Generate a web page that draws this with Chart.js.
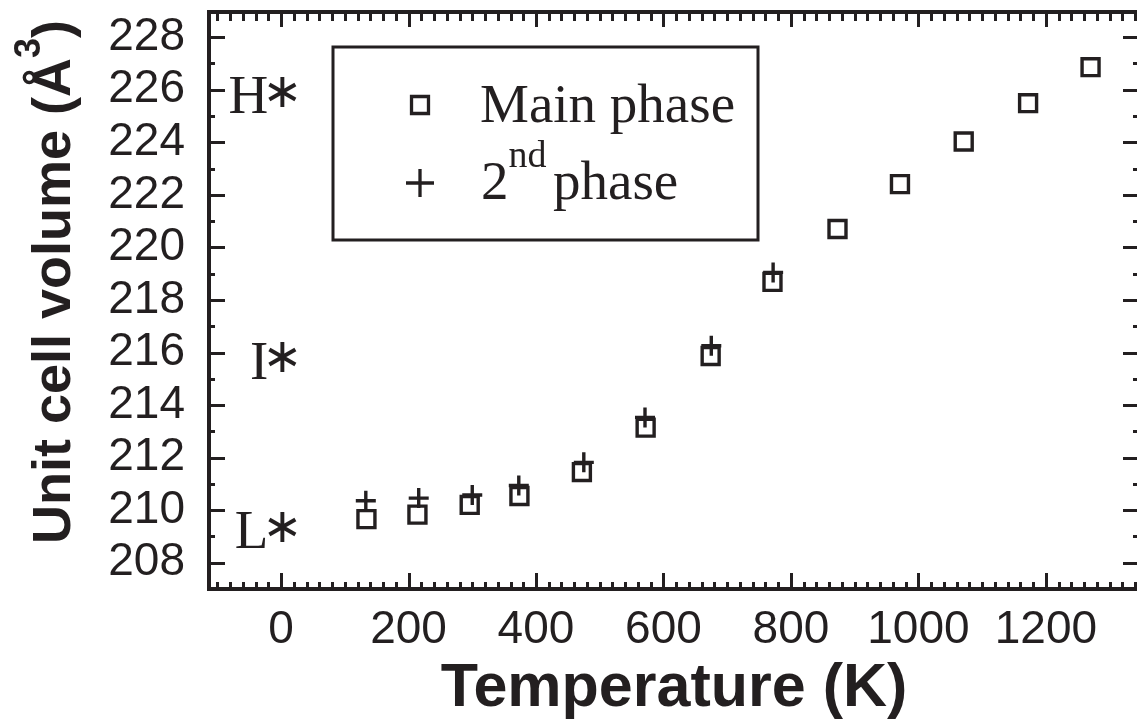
<!DOCTYPE html>
<html>
<head>
<meta charset="utf-8">
<title>Unit cell volume vs temperature</title>
<script src="https://cdn.jsdelivr.net/npm/chart.js@4/dist/chart.umd.min.js"></script>
<style>
  html, body { margin: 0; padding: 0; background: #fff; overflow: hidden; }
  #wrap { width: 1137px; height: 722px; overflow: hidden; position: relative; }
  #volumeChart { display: block; }
</style>
</head>
<body>
<div id="wrap">
  <canvas id="volumeChart" width="1145" height="722"></canvas>
</div>
<script>
// 主相：溫度 (K) 與晶胞體積 (Å^3)
const mainTemps = [134, 214, 296, 374, 472, 572, 674, 771, 873, 971, 1071, 1172, 1270];
const mainVolumes = [209.66, 209.83, 210.20, 210.54, 211.45, 213.14, 215.87, 218.69, 220.70, 222.41, 224.03, 225.49, 226.86];

// 第二相
const secondTemps = [133, 216, 300, 373, 475, 571, 675, 772];
const secondVolumes = [210.36, 210.46, 210.58, 210.94, 211.82, 213.53, 216.26, 219.05];

// 刻度標籤
const xTickValues = [0, 200, 400, 600, 800, 1000, 1200];
const yTickValues = [208, 210, 212, 214, 216, 218, 220, 222, 224, 226, 228];

// 左側的相標記 (H*, I*, L*)
const phaseMarks = ["H", "I", "L"];
const phaseMarkVolumes = [225.1, 215.0, 208.55];

const ink = "#231f20";
const sansFont = "'Liberation Sans', Arial, Helvetica, sans-serif";
const serifFont = "'Liberation Serif', 'Times New Roman', 'DejaVu Serif', serif";

Chart.defaults.font.family = sansFont;
Chart.defaults.color = ink;

// 外框與內向刻度
function drawFrame(chart) {
  const { ctx, chartArea: a, scales: { x, y } } = chart;
  ctx.save();
  ctx.strokeStyle = ink;

  ctx.lineWidth = 3;
  ctx.beginPath();
  for (let k = Math.ceil(x.min / 20); k * 20 <= x.max; k++) {
    const v = k * 20;
    const px = Math.round(x.getPixelForValue(v)) + 0.5;
    const major = v % 200 === 0;
    ctx.moveTo(px, a.bottom);
    ctx.lineTo(px, a.bottom - (major ? 16 : 7));
    ctx.moveTo(px, a.top);
    ctx.lineTo(px, a.top + (major ? 15 : 9));
  }
  for (let v = Math.ceil(y.min); v <= y.max; v++) {
    const py = Math.round(y.getPixelForValue(v)) + 0.5;
    const major = v % 2 === 0;
    ctx.moveTo(a.left, py);
    ctx.lineTo(a.left + (major ? 16 : 6), py);
    ctx.moveTo(a.right, py);
    ctx.lineTo(a.right - (major ? 16 : 6), py);
  }
  ctx.stroke();

  ctx.lineWidth = 4;
  ctx.strokeRect(a.left, a.top, a.right - a.left, a.bottom - a.top);
  ctx.restore();
}

// 圖例方框
function drawLegend(chart) {
  const ctx = chart.ctx;
  ctx.save();
  ctx.strokeStyle = ink;
  ctx.fillStyle = "rgba(0,0,0,0)";
  ctx.lineWidth = 3;
  ctx.strokeRect(333, 47, 425, 193);

  ctx.lineWidth = 3.3;
  Chart.helpers.drawPoint(ctx, { pointStyle: "rect", radius: 12, borderWidth: 3.3, rotation: 0 }, 420, 105);
  Chart.helpers.drawPoint(ctx, { pointStyle: "cross", radius: 14, borderWidth: 3.3, rotation: 0 }, 420, 183);

  ctx.fillStyle = ink;
  ctx.textAlign = "left";
  ctx.textBaseline = "alphabetic";
  ctx.font = "55px " + serifFont;
  ctx.fillText("Main phase", 480, 122);
  ctx.fillText("2", 481, 199);
  const w2 = ctx.measureText("2").width;
  ctx.font = "38px " + serifFont;
  ctx.fillText("nd", 481 + w2, 167);
  ctx.font = "55px " + serifFont;
  ctx.fillText("phase", 553, 199);
  ctx.restore();
}

// H*, I*, L* 標記：字母加星號
function drawPhaseMarks(chart) {
  const { ctx, scales: { x, y } } = chart;
  const letterX = x.getPixelForValue(-20);
  const starX = x.getPixelForValue(2);
  ctx.save();
  ctx.fillStyle = ink;
  phaseMarks.forEach((label, i) => {
    const base = y.getPixelForValue(phaseMarkVolumes[i]);
    ctx.font = "55px " + serifFont;
    ctx.textAlign = "right";
    ctx.textBaseline = "alphabetic";
    ctx.fillText(label, letterX, base);
    ctx.font = "48px 'DejaVu Sans', sans-serif";
    ctx.textAlign = "center";
    ctx.textBaseline = "middle";
    ctx.fillText("\u2217", starX, base - 19);
  });
  ctx.restore();
}

// Y 軸標題（含上標 3）
function drawYTitle(chart) {
  const ctx = chart.ctx;
  const mainFont = "bold 54px " + sansFont;
  const supFont = "bold 36px " + sansFont;
  const head = "Unit cell volume (\u00c5";
  ctx.save();
  ctx.translate(70, 282);
  ctx.rotate(-Math.PI / 2);
  ctx.fillStyle = ink;
  ctx.textAlign = "left";
  ctx.textBaseline = "alphabetic";
  ctx.font = mainFont;
  const wHead = ctx.measureText(head).width;
  const wClose = ctx.measureText(")").width;
  ctx.font = supFont;
  const wSup = ctx.measureText("3").width;
  let pos = -(wHead + wSup + wClose) / 2;
  ctx.font = mainFont;
  ctx.fillText(head, pos, 0);
  pos += wHead;
  ctx.font = supFont;
  ctx.fillText("3", pos, -30);
  pos += wSup;
  ctx.font = mainFont;
  ctx.fillText(")", pos, 0);
  ctx.restore();
}

const decorPlugin = {
  id: "decor",
  afterDraw(chart) {
    drawFrame(chart);
    drawLegend(chart);
    drawPhaseMarks(chart);
    drawYTitle(chart);
  },
};

const ctx = document.getElementById("volumeChart").getContext("2d");
const volumeChart = new Chart(ctx, {
  type: "scatter",
  data: {
    datasets: [
      {
        label: "Main phase",
        data: mainTemps.map((t, i) => ({ x: t, y: mainVolumes[i] })),
        pointStyle: "rect",
        pointRadius: 12,
        pointBorderWidth: 3.4,
        borderColor: ink,
        backgroundColor: "rgba(0,0,0,0)",
      },
      {
        label: "2nd phase",
        data: secondTemps.map((t, i) => ({ x: t, y: secondVolumes[i] })),
        pointStyle: "cross",
        pointRadius: 10,
        pointBorderWidth: 3.4,
        borderColor: ink,
        backgroundColor: ink,
      },
    ],
  },
  options: {
    responsive: false,
    animation: false,
    devicePixelRatio: 1,
    layout: { autoPadding: false, padding: { top: 12, right: 6, left: 0, bottom: 0 } },
    plugins: {
      legend: { display: false },
      tooltip: { enabled: false },
    },
    scales: {
      x: {
        type: "linear",
        min: -113,
        max: 1346,
        grid: { display: false },
        border: { display: false },
        afterBuildTicks: (scale) => {
          scale.ticks = xTickValues.map((v) => ({ value: v }));
        },
        afterFit: (scale) => {
          scale.height = 133;
          scale.paddingLeft = 0;
          scale.paddingRight = 0;
        },
        ticks: {
          color: ink,
          font: { size: 46 },
          padding: 6,
          maxRotation: 0,
          autoSkip: false,
          callback: (value) => String(value),
        },
        title: {
          display: true,
          text: "Temperature (K)",
          color: ink,
          font: { size: 61, weight: "bold", lineHeight: 1 },
          padding: { top: 0, bottom: 2 },
        },
      },
      y: {
        type: "linear",
        min: 207,
        max: 228.96,
        grid: { display: false },
        border: { display: false },
        afterBuildTicks: (scale) => {
          scale.ticks = yTickValues.map((v) => ({ value: v }));
        },
        afterFit: (scale) => {
          scale.width = 209;
          scale.paddingTop = 0;
          scale.paddingBottom = 0;
        },
        ticks: {
          color: ink,
          font: { size: 46 },
          padding: 16,
          autoSkip: false,
          callback: (value) => String(value),
        },
      },
    },
  },
  plugins: [decorPlugin],
});
</script>
</body>
</html>
